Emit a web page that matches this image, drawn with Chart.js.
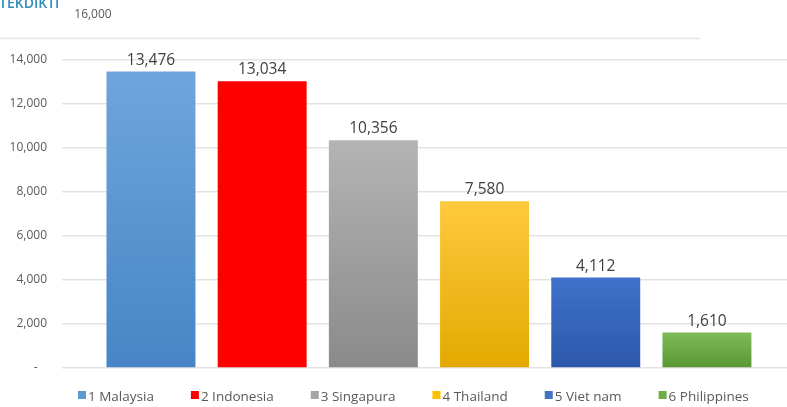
<!DOCTYPE html>
<html>
<head>
<meta charset="utf-8">
<script src="https://cdn.jsdelivr.net/npm/chart.js@4"></script>
<style>
  html, body { margin: 0; padding: 0; background: #fff; }
  #wrap { width: 787px; height: 407px; }
</style>
</head>
<body>
<div id="wrap"><canvas id="chart"></canvas></div>
<script>
// chart data
const countries = ["1 Malaysia", "2 Indonesia", "3 Singapura", "4 Thailand", "5 Viet nam", "6 Philippines"];
const values = [13476, 13034, 10356, 7580, 4112, 1610];
const yTicks = [0, 2000, 4000, 6000, 8000, 10000, 12000, 14000, 16000];

// colours: [top, bottom, legend]
const barColors = [
  ["#6fa5dc", "#4785c6", "#5b9bd5"],
  ["#ff0000", "#ff0000", "#ff0000"],
  ["#b4b4b4", "#8a8a8a", "#a5a5a5"],
  ["#ffc93e", "#e3a900", "#ffc000"],
  ["#3f72c9", "#2c58ab", "#4472c4"],
  ["#7dbb56", "#5a9835", "#70ad47"],
];

function fmt(v) {
  return v.toLocaleString("en-US");
}

// bar gradients, light top to darker bottom
function barFill(ctx) {
  const chart = ctx.chart;
  const c = barColors[ctx.dataIndex];
  if (!chart.chartArea || !chart.scales.y) return c[2];
  const y = chart.scales.y;
  const g = chart.ctx.createLinearGradient(0, y.getPixelForValue(ctx.raw.y), 0, y.getPixelForValue(0));
  g.addColorStop(0, c[0]);
  g.addColorStop(1, c[1]);
  return g;
}

// value labels, legend, and top fragments of the original picture
const extras = {
  id: "extras",
  afterDatasetsDraw(chart) {
    const { ctx } = chart;
    const meta = chart.getDatasetMeta(0);
    ctx.save();
    ctx.font = "15.5px 'Open Sans', sans-serif";
    ctx.fillStyle = "#404040";
    ctx.textAlign = "center";
    ctx.textBaseline = "alphabetic";
    meta.data.forEach((bar, i) => {
      ctx.fillText(fmt(values[i]), bar.x, bar.y - 7);
    });

    // legend row
    ctx.font = "13.5px 'Open Sans', sans-serif";
    ctx.textAlign = "left";
    ctx.textBaseline = "middle";
    let x = 78;
    countries.forEach((name, i) => {
      ctx.fillStyle = barColors[i][2];
      ctx.fillRect(x, 391, 8, 8);
      ctx.fillStyle = "#595959";
      ctx.fillText(name, x + 10, 397);
      x += 10 + ctx.measureText(name).width + 37;
    });

    // cut-off header text and stray 16,000 label
    ctx.font = "600 14px 'Open Sans', sans-serif";
    ctx.fillStyle = "#2f8cba";
    ctx.textBaseline = "alphabetic";
    ctx.fillText("TEKDIKTI", -1, 8);
    ctx.font = "12px 'Open Sans', sans-serif";
    ctx.fillStyle = "#595959";
    ctx.textAlign = "center";
    ctx.fillText(fmt(yTicks[yTicks.length - 1]), 93, 18);
    ctx.strokeStyle = "#e6e6e6";
    ctx.lineWidth = 1.5;
    ctx.beginPath();
    ctx.moveTo(0, 38.5);
    ctx.lineTo(700, 38.5);
    ctx.stroke();
    ctx.restore();
  },
};

const ctx = document.getElementById("chart");
new Chart(ctx, {
  type: "bar",
  data: {
    labels: countries,
    datasets: [{
      label: "Jumlah",
      data: values.map((v, i) => ({ x: i, y: v })),
      backgroundColor: barFill,
      borderWidth: 0,
      barPercentage: 0.8,
      categoryPercentage: 1.0,
    }],
  },
  options: {
    responsive: true,
    maintainAspectRatio: false,
    animation: false,
    layout: { padding: { left: 0, right: 0, top: 16, bottom: 0 } },
    scales: {
      x: {
        type: "linear",
        min: -0.8,
        max: 5.72,
        offset: false,
        afterBuildTicks: (s) => { s.ticks = values.map((v, i) => ({ value: i })); },
        grid: { display: false },
        border: { display: false },
        ticks: { display: false },
        afterFit: (s) => { s.height = 39; },
      },
      y: {
        min: 0,
        max: 16000,
        afterBuildTicks: (s) => { s.ticks = yTicks.map((v) => ({ value: v })); },
        afterFit: (s) => { s.width = 62; s.paddingTop = 0; s.paddingBottom = 0; },
        border: { display: false },
        grid: {
          color: (c) => (c.tick && c.tick.value === 16000 ? "rgba(0,0,0,0)" : "#e3e3e3"),
          lineWidth: 1.5,
          drawTicks: false,
        },
        ticks: {
          padding: 15,
          color: "#595959",
          font: { family: "'Open Sans', sans-serif", size: 12 },
          callback: (v) => (v === 16000 ? "" : v === 0 ? "-   " : fmt(v)),
        },
      },
    },
    plugins: {
      tooltip: { enabled: false },
      legend: { display: false },
    },
  },
  plugins: [extras],
});
</script>
</body>
</html>
